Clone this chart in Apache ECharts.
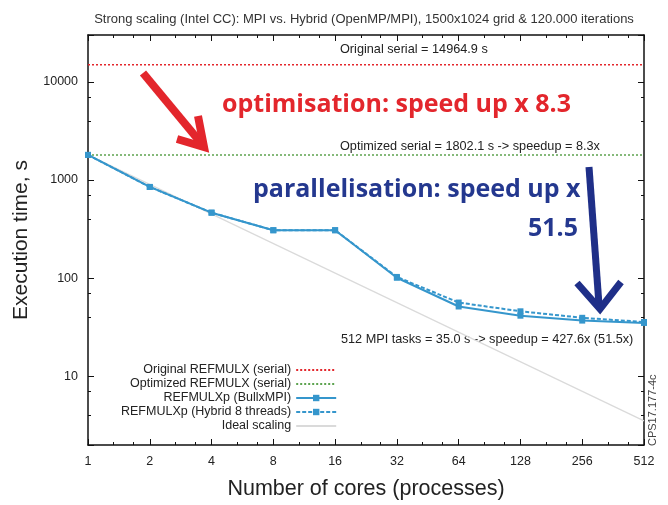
<!DOCTYPE html>
<html>
<head>
<meta charset="utf-8">
<script src="https://cdn.jsdelivr.net/npm/echarts@6/dist/echarts.min.js"></script>
<style>
  html, body { margin: 0; padding: 0; background: #fff; }
  #main { width: 668px; height: 505px; }
</style>
</head>
<body>
<div id="main"></div>
<script>
// number of cores (x) and measured execution times (s)
const cores = [1, 2, 4, 8, 16, 32, 64, 128, 256, 512];
const mpiTimes = [1802.1, 850, 465, 308, 308, 101, 51.5, 41.5, 37, 35.0];
const hybridTimes = [1802.1, 850, 465, 308, 308, 103, 56.5, 46, 39.5, 35.8];
const originalSerial = 14964.9;
const optimizedSerial = 1802.1;
const idealCores = [1, 512];
const idealTimes = [1802.1, 3.52];
const yTickLabels = [10, 100, 1000, 10000];

const blue = '#3596cc';
const chart = echarts.init(document.getElementById('main'));

const pairs = (xs, ys) => xs.map((x, i) => [x, ys[i]]);

const xBase = {
  type: 'log',
  logBase: 2,
  min: 1,
  max: 512,
  splitNumber: 9,
  axisLine: { lineStyle: { color: '#111', width: 1.5 } },
  axisTick: { inside: true, length: 6, lineStyle: { color: '#111' } },
  minorTick: { show: true, splitNumber: 3, length: 3, lineStyle: { color: '#111' } },
  splitLine: { show: false }
};
const yBase = {
  type: 'log',
  logBase: 10,
  min: 2,
  max: 30000,
  axisLine: { lineStyle: { color: '#111', width: 1.5 } },
  axisTick: { inside: true, length: 6, lineStyle: { color: '#111' } },
  minorTick: { show: true, splitNumber: 3, length: 3, lineStyle: { color: '#111' } },
  splitLine: { show: false }
};

const noSymbol = { itemStyle: { opacity: 0 } };

const option = {
  backgroundColor: '#fff',
  animation: false,
  textStyle: { fontFamily: 'Liberation Sans' },
  title: {
    text: 'Strong scaling (Intel CC): MPI vs. Hybrid (OpenMP/MPI), 1500x1024 grid & 120.000 iterations',
    left: 359,
    textAlign: 'center',
    top: 8,
    textStyle: { fontSize: 13, fontWeight: 'normal', color: '#333' }
  },
  grid: { left: 88, right: 24, top: 35, bottom: 58 },
  legend: {
    orient: 'vertical',
    align: 'right',
    left: 116,
    top: 358,
    itemWidth: 40,
    itemHeight: 8,
    itemGap: 0,
    textStyle: { fontSize: 12.5, color: '#222', lineHeight: 14 },
    data: [
      Object.assign({ name: 'Original REFMULX (serial)' }, noSymbol),
      Object.assign({ name: 'Optimized REFMULX (serial)' }, noSymbol),
      { name: 'REFMULXp (BullxMPI)' },
      { name: 'REFMULXp (Hybrid 8 threads)' },
      Object.assign({ name: 'Ideal scaling' }, noSymbol)
    ]
  },
  xAxis: [
    Object.assign({}, xBase, {
      position: 'bottom',
      name: 'Number of cores (processes)',
      nameLocation: 'middle',
      nameGap: 33,
      nameTextStyle: { fontSize: 21.5, color: '#222' },
      axisLabel: { fontSize: 12.5, color: '#222', margin: 10 }
    }),
    Object.assign({}, xBase, { position: 'top', axisLabel: { show: false } })
  ],
  yAxis: [
    Object.assign({}, yBase, {
      position: 'left',
      name: 'Execution time, s',
      nameLocation: 'middle',
      nameGap: 56,
      nameTextStyle: { fontSize: 21, color: '#222' },
      axisLabel: {
        fontSize: 12.5, color: '#222', margin: 10,
        formatter: v => (yTickLabels.indexOf(Math.round(v)) >= 0 ? String(Math.round(v)) : '')
      }
    }),
    Object.assign({}, yBase, { position: 'right', axisLabel: { show: false } })
  ],
  series: [
    {
      name: 'Original REFMULX (serial)',
      type: 'line',
      data: pairs(cores, cores.map(() => originalSerial)),
      symbol: 'none',
      lineStyle: { color: '#e3262c', width: 1.5, type: [2, 2] },
      itemStyle: { color: '#e3262c' }
    },
    {
      name: 'Optimized REFMULX (serial)',
      type: 'line',
      data: pairs(cores, cores.map(() => optimizedSerial)),
      symbol: 'none',
      lineStyle: { color: '#5da34f', width: 1.5, type: [2, 2] },
      itemStyle: { color: '#5da34f' }
    },
    {
      name: 'REFMULXp (BullxMPI)',
      type: 'line',
      data: pairs(cores, mpiTimes),
      symbol: 'rect',
      symbolSize: 6,
      lineStyle: { color: blue, width: 2 },
      itemStyle: { color: blue }
    },
    {
      name: 'REFMULXp (Hybrid 8 threads)',
      type: 'line',
      data: pairs(cores, hybridTimes),
      symbol: 'rect',
      symbolSize: 6,
      lineStyle: { color: blue, width: 2, type: [4, 2] },
      itemStyle: { color: blue }
    },
    {
      name: 'Ideal scaling',
      type: 'line',
      data: pairs(idealCores, idealTimes),
      symbol: 'none',
      z: 1,
      lineStyle: { color: '#dadada', width: 1.2 },
      itemStyle: { color: '#dadada' }
    }
  ],
  graphic: [
    { type: 'text', left: 340, top: 43, style: { text: 'Original serial = 14964.9 s', fontSize: 12.7, fill: '#222', fontFamily: 'Liberation Sans' } },
    { type: 'text', left: 340, top: 140, style: { text: 'Optimized serial = 1802.1 s -> speedup = 8.3x', fontSize: 12.7, fill: '#222', fontFamily: 'Liberation Sans' } },
    { type: 'text', left: 341, top: 333, style: { text: '512 MPI tasks = 35.0 s -> speedup = 427.6x (51.5x)', fontSize: 12.7, fill: '#222', fontFamily: 'Liberation Sans' } },
    { type: 'text', left: 222, top: 92, style: { text: 'optimisation: speed up x 8.3', fontSize: 25, fontWeight: 'bold', fill: '#e3262c', fontFamily: 'Open Sans' } },
    { type: 'text', left: 253, top: 177, style: { text: 'parallelisation: speed up x', fontSize: 25, fontWeight: 'bold', fill: '#24388f', fontFamily: 'Open Sans' } },
    { type: 'text', left: 528, top: 216, style: { text: '51.5', fontSize: 25, fontWeight: 'bold', fill: '#24388f', fontFamily: 'Open Sans' } },
    // red arrow
    { type: 'polyline', shape: { points: [[143, 73], [201, 143]] }, style: { stroke: '#e3262c', lineWidth: 8, fill: null } },
    { type: 'polyline', shape: { points: [[177, 139], [204, 147], [198, 116]] }, style: { stroke: '#e3262c', lineWidth: 8, fill: null, lineJoin: 'miter' } },
    // blue arrow
    { type: 'polyline', shape: { points: [[589, 167], [599, 305]] }, style: { stroke: '#1f2f88', lineWidth: 7, fill: null } },
    { type: 'polyline', shape: { points: [[577, 283], [600, 309], [621, 282]] }, style: { stroke: '#1f2f88', lineWidth: 7, fill: null, lineJoin: 'miter' } },
    {
      type: 'text', x: 647, y: 446, rotation: Math.PI / 2,
      style: { text: 'CPS17.177-4c', fontSize: 11, fill: '#444', fontFamily: 'Liberation Sans' }
    }
  ]
};

chart.setOption(option);
</script>
</body>
</html>
